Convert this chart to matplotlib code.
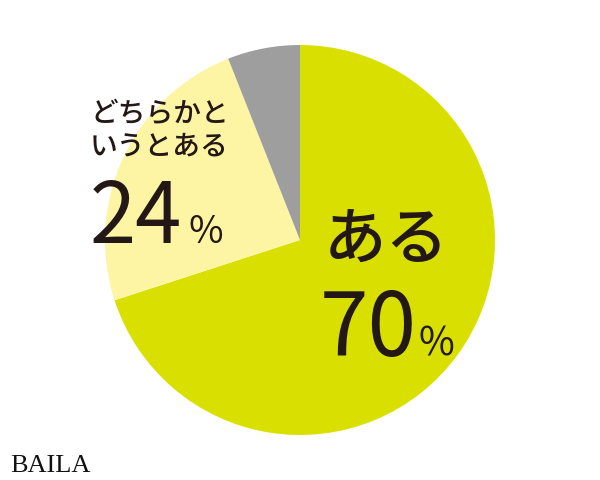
import matplotlib.pyplot as plt

# データ
labels = ['ある', 'どちらかと\nいうとある', 'ない']
values = [70, 24, 6]
colors = ['#d9e000', '#fdf5a3', '#9e9e9f']

plt.rcParams['font.family'] = ['Noto Sans CJK JP', 'DejaVu Sans']
ink = '#231815'

W, H = 600, 480
fig = plt.figure(figsize=(W / 100, H / 100), dpi=100)
ax = fig.add_axes([105 / W, 45 / H, 390 / W, 390 / H])
ax.pie(values, colors=colors, startangle=90, counterclock=False, radius=1,
       wedgeprops=dict(linewidth=0))
ax.set_xlim(-1, 1)
ax.set_ylim(-1, 1)
ax.set_aspect('equal')
ax.axis('off')


def px(x, y):
    return x / W, 1 - y / H


# どちらかというとある
fig.text(*px(90, 154), labels[1], fontsize=20, color=ink, ha='left', va='baseline',
         linespacing=1.15, fontweight='medium')
fig.text(*px(90, 243), str(values[1]), fontsize=60, color=ink, ha='left', va='baseline')
fig.text(*px(188, 243), '%', fontsize=27, color=ink, ha='left', va='baseline')

# ある
fig.text(*px(324, 259), labels[0], fontsize=45, color=ink, ha='left', va='baseline',
         fontweight='medium')
fig.text(*px(320, 356), str(values[0]), fontsize=63, color=ink, ha='left', va='baseline')
fig.text(*px(418, 356), '%', fontsize=28, color=ink, ha='left', va='baseline')

# ロゴ
fig.text(*px(10, 472), 'BAILA', fontsize=19, color='#111111', family='Liberation Serif',
         ha='left', va='baseline')

fig.savefig('out.png', dpi=100, facecolor='white')
